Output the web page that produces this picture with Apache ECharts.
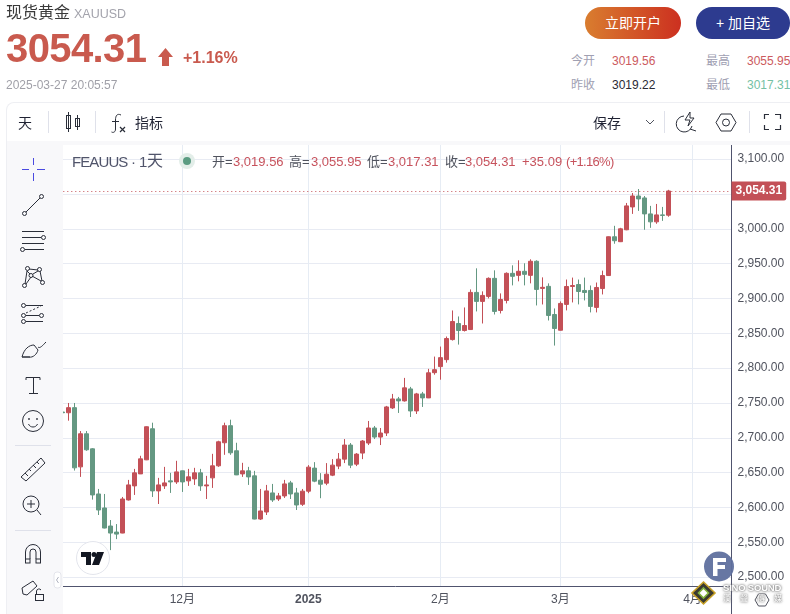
<!DOCTYPE html>
<html>
<head>
<meta charset="utf-8">
<title>现货黄金 XAUUSD</title>
<script src="https://cdn.jsdelivr.net/npm/echarts@6/dist/echarts.min.js"></script>
<style>
  html, body { margin: 0; padding: 0; background: #fff; }
  body { width: 790px; height: 614px; position: relative; overflow: hidden;
    font-family: "Liberation Sans", "Noto Sans CJK SC", sans-serif; }
  #chart { position: absolute; left: 0; top: 0; width: 790px; height: 614px; }
  .t { position: absolute; white-space: nowrap; line-height: 1; }
  .red { color: #c7525c; }
  .dk { color: #50535e; }
  .box { position: absolute; }
  svg.icons { position: absolute; left: 0; top: 0; width: 790px; height: 614px; pointer-events: none; }
  .btn { position: absolute; top: 7px; height: 32px; border-radius: 16px; color: #fff; font-size: 14px;
    line-height: 32px; text-align: center; }
</style>
</head>
<body>
<div id="chart"></div>

<!-- 页头和工具栏 -->
<div class="box" style="left:0;top:0;width:790px;height:102px;background:#fff"></div>
<div class="box" style="left:0;top:102px;width:6px;height:512px;background:#fff"></div>
<div class="box" style="left:6px;top:102px;width:790px;height:39px;background:#fff;border:1px solid #eeeff3;border-bottom:0;border-radius:8px 0 0 0;box-sizing:border-box"></div>
<div class="box" style="left:7px;top:141px;width:783px;height:4px;background:#f8f8fa"></div>
<div class="box" style="left:6px;top:141px;width:57px;height:473px;background:#f8f8fa;border-left:1px solid #eeeff3;box-sizing:border-box"></div>

<div class="t" style="left:6px;top:5px;font-size:16px;color:#3a3a3a">现货黄金</div>
<div class="t" style="left:74px;top:8px;font-size:12.5px;color:#a3a3ac">XAUUSD</div>
<div class="t" style="left:6px;top:28px;font-size:40px;font-weight:bold;letter-spacing:-0.6px;color:#c95a4e">3054.31</div>
<div class="t" style="left:183px;top:50px;font-size:16px;font-weight:bold;color:#c95a4e">+1.16%</div>
<div class="t" style="left:6px;top:79px;font-size:12px;color:#a0a0a8">2025-03-27 20:05:57</div>
<div class="btn" style="left:585px;width:96px;background:linear-gradient(90deg,#d97d2f,#cc3020)">立即开户</div>
<div class="btn" style="left:696px;width:94px;background:#2d3b8f">+ 加自选</div>
<div class="t" style="left:571px;top:55px;font-size:12px;color:#a0a0b2">今开</div>
<div class="t" style="left:612px;top:55px;font-size:12px;color:#cc5a5e">3019.56</div>
<div class="t" style="left:706px;top:55px;font-size:12px;color:#a0a0b2">最高</div>
<div class="t" style="left:747px;top:55px;font-size:12px;color:#cc5a5e">3055.95</div>
<div class="t" style="left:571px;top:79px;font-size:12px;color:#a0a0b2">昨收</div>
<div class="t" style="left:612px;top:79px;font-size:12px;color:#2a2a34">3019.22</div>
<div class="t" style="left:706px;top:79px;font-size:12px;color:#a0a0b2">最低</div>
<div class="t" style="left:747px;top:79px;font-size:12px;color:#74c1a4">3017.31</div>
<div class="t" style="left:18px;top:116px;font-size:14px;color:#1f2233">天</div>
<div class="t" style="left:135px;top:116px;font-size:14px;color:#1f2233">指标</div>
<div class="t" style="left:593px;top:116px;font-size:14px;color:#1f2233">保存</div>

<!-- 图例 -->
<div class="t" style="left:72px;top:154px;font-size:15px;letter-spacing:-0.9px;color:#50546a">FEAUUS</div>
<div class="t" style="left:131px;top:154px;font-size:15px;color:#50546a">·</div>
<div class="t" style="left:139px;top:154px;font-size:15px;color:#50546a">1</div>
<div class="t" style="left:147px;top:153px;font-size:16px;color:#50546a">天</div>
<div class="t dk" style="left:212px;top:155px;font-size:13px">开=</div>
<div class="t red" style="left:233px;top:155px;font-size:13px">3,019.56</div>
<div class="t dk" style="left:289px;top:155px;font-size:13px">高=</div>
<div class="t red" style="left:311px;top:155px;font-size:13px">3,055.95</div>
<div class="t dk" style="left:367px;top:155px;font-size:13px">低=</div>
<div class="t red" style="left:388px;top:155px;font-size:13px">3,017.31</div>
<div class="t dk" style="left:445px;top:155px;font-size:13px">收=</div>
<div class="t red" style="left:465px;top:155px;font-size:13px">3,054.31</div>
<div class="t red" style="left:522px;top:155px;font-size:13px">+35.09</div>
<div class="t red" style="left:566px;top:155px;font-size:13px;letter-spacing:-0.7px">(+1.16%)</div>

<svg class="icons" viewBox="0 0 790 614" fill="none" stroke="#2a2e39" stroke-width="1">
  <!-- 涨跌箭头 -->
  <path d="M165.5 48 L173 57 L169 57 L169 66 L162 66 L162 57 L158 57 Z" fill="#c95a4e" stroke="none"/>
  <!-- 工具栏 -->
  <g stroke="#dfe1ea">
    <line x1="48.5" y1="111" x2="48.5" y2="133"/><line x1="95.5" y1="111" x2="95.5" y2="133"/>
    <line x1="664.5" y1="111" x2="664.5" y2="133"/><line x1="749.5" y1="111" x2="749.5" y2="133"/>
  </g>
  <rect x="66.5" y="115.5" width="4" height="13"/><line x1="68.5" y1="112" x2="68.5" y2="132"/>
  <rect x="75.5" y="118.5" width="4" height="8"/><line x1="77.5" y1="115" x2="77.5" y2="130"/>
  <path d="M121 115 C117 113 115.5 116 115.5 120 L115.5 129 C115.5 132 113.5 133 111.5 132"/><line x1="112" y1="121.5" x2="119" y2="121.5"/>
  <path d="M120 127 L125 132 M125 127 L120 132" stroke-width="1.2"/>
  <path d="M646 120 L650 124 L654 120" stroke="#50535e"/>
  <path d="M684 116 A8 8 0 1 0 692 126 M690 129 L696 131" /><path d="M690 112 L685 120 L690 120 L688 126 L694 118 L690 118 Z"/>
  <path d="M716 122.5 L721 114 L731 114 L736 122.5 L731 131 L721 131 Z"/><circle cx="726" cy="122.5" r="3.5"/>
  <path d="M764.5 119 L764.5 114.5 L769 114.5 M775 114.5 L780.5 114.5 L780.5 119 M780.5 125 L780.5 129.5 L775 129.5 M769 129.5 L764.5 129.5 L764.5 125" stroke-width="1.2"/>
  <!-- 左侧绘图工具 -->
  <path d="M33.5 158 V165 M33.5 173 V181 M22 169.5 H29 M37 169.5 H45" stroke="#4a4ae0"/>
  <circle cx="24.5" cy="213.5" r="2"/><circle cx="41.5" cy="196.5" r="2"/><line x1="26" y1="212" x2="40" y2="198"/>
  <path d="M22 231.5 H44 M22 237.5 H41 M22 243.5 H44 M25 249.5 H44"/><circle cx="43.5" cy="237.5" r="2"/><circle cx="22.5" cy="249.5" r="2"/>
  <circle cx="27.5" cy="268.5" r="2"/><circle cx="39.5" cy="269.5" r="2"/><circle cx="31" cy="275.5" r="2"/><circle cx="24.5" cy="285.5" r="2"/><circle cx="42.5" cy="282.5" r="2"/>
  <path d="M25 284 L27 271 L30 274 M32 276 L41 281 M40 271 L42 281 M31 277 L26 284 M29 269 L38 270 M33 274 L38 271"/>
  <circle cx="23.5" cy="305.5" r="2"/><circle cx="23.5" cy="315.5" r="2"/><circle cx="23.5" cy="321.5" r="2"/><circle cx="41.5" cy="315.5" r="2"/>
  <path d="M26 305.5 H43 M26 315.5 H39 M26 321.5 H43"/><path d="M26 313 L41 306" stroke-dasharray="2 2"/>
  <path d="M22 357 C24 349 29 345 34 345 L38 350 C37 354 33 358 29 357 Z M22 357 H30 M38 347 C40 349 43 345 46 342"/>
  <path d="M26 377.5 H40 M26 377.5 V380 M40 377.5 V380 M33.5 377.5 V393.5 M29 393.5 H38"/>
  <circle cx="33" cy="421" r="10.5"/><circle cx="29" cy="419" r="0.6"/><circle cx="37" cy="419" r="0.6"/><path d="M28.5 424 C30 428 36 428 37.5 424"/>
  <line x1="15" y1="445.5" x2="51" y2="445.5" stroke="#dfe1ea"/>
  <path d="M21 477 L41 458 L45 463 L26 481 Z M25 473 L28 476 M29 469 L31 471 M33 465 L36 468 M37 462 L39 464" />
  <circle cx="31" cy="504" r="8"/><path d="M37 510 L41 515 M27 504 H35 M31 500 V508"/>
  <line x1="15" y1="530.5" x2="51" y2="530.5" stroke="#dfe1ea"/>
  <path d="M25.5 559 V552 A7.5 7.5 0 0 1 40.5 552 V559 M30 559 V552 A3 3 0 0 1 36 552 V559"/><rect x="25.5" y="559" width="4.5" height="4"/><rect x="36" y="559" width="4.5" height="4"/>
  <path d="M22 588 L33 581 L37 586 L27 595 L23 594 Z"/><rect x="35.5" y="594.5" width="8" height="6"/><path d="M36.5 594 V591 A2.5 2.5 0 0 1 41 590"/>
  <rect x="54" y="572" width="7" height="16" rx="3" stroke="#e4e5eb" fill="#fff"/><path d="M58.5 577 L56.5 580 L58.5 583" stroke="#b0b3c0"/>
  <!-- 坐标轴下延 -->
  <line x1="731.5" y1="586" x2="731.5" y2="614" stroke="#50546e"/>
  <!-- 状态点 -->
  <circle cx="187" cy="161" r="8" fill="#e3eee9" stroke="none"/><circle cx="187" cy="161" r="4" fill="#5b9c82" stroke="none"/>
  <!-- TV 标记 -->
  <circle cx="93" cy="558" r="16.5" fill="#fff" stroke="#e3e5ec"/>
  <path d="M81 552 H91 V565 H86 V557 H81 Z M97 552 H104 L99 565 H92 Z" fill="#131722" stroke="none"/><circle cx="94" cy="554.5" r="2.5" fill="#131722" stroke="none"/>
  <!-- 水印 -->
  <circle cx="719" cy="566.5" r="15" fill="#5f709e" stroke="none" opacity="0.95"/>
  <path d="M713 558 H726 V562 H717.5 V565 H725 V569 H717.5 V576 H713 Z" fill="#fff" stroke="none"/>
  <path d="M703.5 582 L715 593 L703.5 604 L692 593 Z" fill="#3a3a30" stroke="#c9a227" stroke-width="1.6"/>
  <path d="M703.5 588 L708.5 593 L703.5 598 L698.5 593 Z" fill="#fff" stroke="#7fb03a" stroke-width="1.6"/>
  <path d="M755 600 L758.5 594 L765.5 594 L769 600 L765.5 606 L758.5 606 Z" stroke="#50535e" fill="none"/>
</svg>
<div class="t" style="left:723px;top:583px;font-size:9.5px;font-weight:bold;letter-spacing:-0.2px;color:#fff;text-shadow:0 0 3px #777,0 0 2px #777">SINO SOUND</div>
<div class="t" style="left:723px;top:595px;font-size:8px;color:#fff;text-shadow:0 0 3px #777,0 0 2px #777;letter-spacing:9px">漢聲傳媒</div>

<script>
// 日期，后面几根是未来的空位
const categories = [
  '2024-11-04','2024-11-05','2024-11-06','2024-11-07','2024-11-08','2024-11-11','2024-11-12','2024-11-13','2024-11-14','2024-11-15',
  '2024-11-18','2024-11-19','2024-11-20','2024-11-21','2024-11-22','2024-11-25','2024-11-26','2024-11-27','2024-11-28','2024-11-29',
  '2024-12-02','2024-12-03','2024-12-04','2024-12-05','2024-12-06','2024-12-09','2024-12-10','2024-12-11','2024-12-12','2024-12-13',
  '2024-12-16','2024-12-17','2024-12-18','2024-12-19','2024-12-20','2024-12-23','2024-12-24','2024-12-26','2024-12-27','2024-12-30',
  '2024-12-31','2025-01-02','2025-01-03','2025-01-06','2025-01-07','2025-01-08','2025-01-09','2025-01-10','2025-01-13','2025-01-14',
  '2025-01-15','2025-01-16','2025-01-17','2025-01-20','2025-01-21','2025-01-22','2025-01-23','2025-01-24','2025-01-27','2025-01-28',
  '2025-01-29','2025-01-30','2025-01-31','2025-02-03','2025-02-04','2025-02-05','2025-02-06','2025-02-07','2025-02-10','2025-02-11',
  '2025-02-12','2025-02-13','2025-02-14','2025-02-17','2025-02-18','2025-02-19','2025-02-20','2025-02-21','2025-02-24','2025-02-25',
  '2025-02-26','2025-02-27','2025-02-28','2025-03-03','2025-03-04','2025-03-05','2025-03-06','2025-03-07','2025-03-10','2025-03-11',
  '2025-03-12','2025-03-13','2025-03-14','2025-03-17','2025-03-18','2025-03-19','2025-03-20','2025-03-21','2025-03-24','2025-03-25',
  '2025-03-26','2025-03-27','2025-03-28','2025-03-30','2025-03-31','2025-04-01','2025-04-02','2025-04-03','2025-04-04','2025-04-07',
  '2025-04-08','2025-04-09'
];
const opens = [
  2737,2736,2743.3,2658.3,2705.8,2684.2,2619.4,2599.3,2573.4,2564.7,
  2563.3,2610.8,2631,2648.2,2668.4,2713,2623.8,2631,2638.2,2636.7,
  2652.6,2638.2,2641,2649.7,2631,2642.5,2659.8,2692.9,2717.4,2681.4,
  2648.2,2652.6,2645.4,2583.4,2593.5,2620.9,2612.2,2616.6,2635.3,2620.9,
  2604.6,2623.4,2656.5,2639.2,2634.9,2646.4,2659.4,2669.4,2689.6,2662.2,
  2678.1,2692.5,2714.1,2701.1,2706.9,2742.9,2755.8,2753,2770.2,2738.6,
  2763,2757.3,2793.5,2802.2,2812.2,2841,2864.1,2854,2855.4,2908.7,
  2895.8,2903,2928.9,2882.8,2897.2,2936.1,2933.2,2939,2933.2,2953.4,
  2914.5,2917.4,2877,2854.4,2891.5,2917.2,2920,2911.5,2911.5,2887.2,
  2914.3,2932.9,2988.6,2981.5,2998.6,3031.4,3047.1,3044.3,3021.4,3010,
  3020,3019.56
];
const closes = [
  2736,2743.3,2656.9,2705.8,2682.8,2618,2596.4,2570.5,2563.3,2561.8,
  2612.2,2632.4,2649.7,2669.8,2715.9,2623.8,2632.4,2635.3,2636.7,2651.1,
  2636.7,2644,2649.7,2631,2632.4,2659.8,2694.3,2717.4,2678.5,2646.8,
  2652.6,2643.9,2583.4,2595,2623.8,2610.8,2616.6,2633.8,2619.4,2603.6,
  2623.4,2657.9,2637.8,2633.4,2647.8,2660.8,2669.4,2689.6,2660.8,2676.6,
  2695.4,2714.1,2701.1,2706.9,2744.3,2755.8,2753,2771.7,2738.6,2763,
  2757.3,2793.3,2797.8,2815.1,2842.5,2867,2854,2861.2,2908.7,2895.8,
  2904.4,2928.9,2881.4,2898.6,2936.1,2931.8,2939,2934.6,2953.4,2913,
  2916,2875.6,2856.9,2892.9,2917.2,2918.6,2910,2908.6,2888.6,2915.8,
  2932.9,2988.6,2982.9,3000,3032.9,3047.1,3042.9,3021.4,3010,3020,
  3019.22,3054.31
];
const lows = [
  2735,2724.6,2653,2643.9,2681.4,2611.3,2589.2,2570,2538.8,2554.6,
  2563,2610,2618,2648,2668,2615.1,2605,2626.6,2620.9,2633.8,
  2622.3,2631,2632.4,2623.8,2612.2,2628.1,2658.3,2675.6,2675.6,2646.5,
  2643.9,2632.4,2583,2582,2589.2,2608,2609.4,2613.7,2612.2,2596.4,
  2602.2,2620.5,2636.3,2613.3,2632,2645,2655,2663.7,2656.5,2659.4,
  2669.4,2689.6,2698.2,2689.6,2702.6,2741.4,2735.7,2752,2729.9,2734.2,
  2744.3,2757,2790.6,2783.4,2807.9,2839.6,2833.8,2852.6,2855,2881.4,
  2864.1,2900.1,2877,2878.5,2892.9,2918.8,2924.6,2918.8,2921.7,2890,
  2891.4,2868.4,2832.4,2854,2882.9,2894.3,2891.5,2897.2,2880,2880,
  2905.8,2932.5,2978.6,2981,2998,3021.4,3025.7,2998.6,3001.4,3007.2,
  3011.4,3017.31
];
const highs = [
  2740,2750,2750,2709.7,2709.7,2685.2,2626.6,2619.4,2582,2576.2,
  2615.1,2639.6,2655.4,2674.2,2716.5,2721.7,2642.5,2658.3,2649.7,2667,
  2653,2655.4,2656.9,2655.4,2645.4,2677,2695.8,2721.7,2726,2692.9,
  2664.1,2658.3,2652.6,2626.6,2632.4,2633.8,2620.9,2639.6,2638.2,2628.1,
  2626.6,2660.8,2665.1,2649.3,2663.7,2669.4,2678.1,2698.2,2692.5,2678.1,
  2696.8,2724.2,2717,2714.1,2745.8,2763,2758.7,2786,2773.1,2764.5,
  2765.9,2799,2816.6,2831,2845.4,2882.8,2874.2,2887.1,2913,2943.3,
  2910.2,2930.3,2940.4,2907.3,2937.5,2947.6,2954.8,2950.5,2956.2,2954.8,
  2930.3,2921.7,2885.7,2895.8,2927.2,2930,2927.2,2930,2918.6,2922.9,
  2940,2989,3004.3,3001.4,3037.1,3051.4,3057.1,3047.1,3032.9,3035.7,
  3031.4,3055.95
];
const valueTicks = [2500,2550,2600,2650,2700,2750,2800,2850,2900,2950,3000,3050,3100];
const monthTicks = { 20: '12月', 41: '2025', 63: '2月', 83: '3月', 105: '4月' };
const lastPrice = 3054.31;

const upColor = '#c35057';
const downColor = '#649882';
const gridColor = '#e8ebf3';
const axisColor = '#50546e';

function fmt(v) {
  return v.toLocaleString('en-US', { minimumFractionDigits: 2, maximumFractionDigits: 2 });
}
const isMonth = (i) => monthTicks[i] !== undefined;

const chart = echarts.init(document.getElementById('chart'));
chart.setOption({
  animation: false,
  backgroundColor: '#fff',
  grid: { left: 59.3, right: 58.5, top: 145, bottom: 28 },
  xAxis: {
    type: 'category',
    data: categories,
    axisLine: { lineStyle: { color: axisColor, width: 1 } },
    axisTick: { show: false, alignWithLabel: true, interval: isMonth },
    axisLabel: {
      interval: isMonth,
      margin: 8,
      color: '#50535e',
      fontSize: 12,
      fontFamily: '"Liberation Sans", "Noto Sans CJK SC", sans-serif',
      formatter: (v, i) => monthTicks[i] === '2025' ? '{b|2025}' : monthTicks[i],
      rich: { b: { fontWeight: 'bold', fontSize: 12, color: '#50535e' } }
    },
    splitLine: { show: true, alignWithLabel: true, interval: isMonth, lineStyle: { color: '#e6ecf4', width: 1 } }
  },
  yAxis: {
    type: 'value',
    position: 'right',
    min: 2487.3,
    max: 3120.3,
    scale: true,
    axisLine: { show: true, lineStyle: { color: axisColor, width: 1 } },
    axisTick: { show: false, customValues: valueTicks },
    axisLabel: {
      customValues: valueTicks,
      margin: 6,
      padding: [2, 0, 0, 0],
      color: '#50535e',
      fontSize: 12,
      fontFamily: '"Liberation Sans", sans-serif',
      formatter: (v) => fmt(v)
    },
    splitLine: { show: true, lineStyle: { color: gridColor, width: 1.2 } }
  },
  series: [{
    type: 'candlestick',
    barWidth: 5,
    itemStyle: { color: upColor, color0: downColor, borderColor: upColor, borderColor0: downColor, borderWidth: 1 },
    data: opens.map((o, i) => [o, closes[i], lows[i], highs[i]]),
    markLine: {
      silent: true,
      symbol: 'none',
      animation: false,
      lineStyle: { color: upColor, type: [1, 3], width: 1 },
      label: {
        position: 'end',
        distance: 0,
        formatter: fmt(lastPrice),
        backgroundColor: upColor,
        color: '#fff',
        fontSize: 12,
        fontWeight: 'bold',
        fontFamily: '"Liberation Sans", sans-serif',
        padding: [4, 4, 3, 4],
        borderRadius: [0, 2, 2, 0]
      },
      data: [{ yAxis: lastPrice }]
    }
  }]
});
</script>
</body>
</html>
